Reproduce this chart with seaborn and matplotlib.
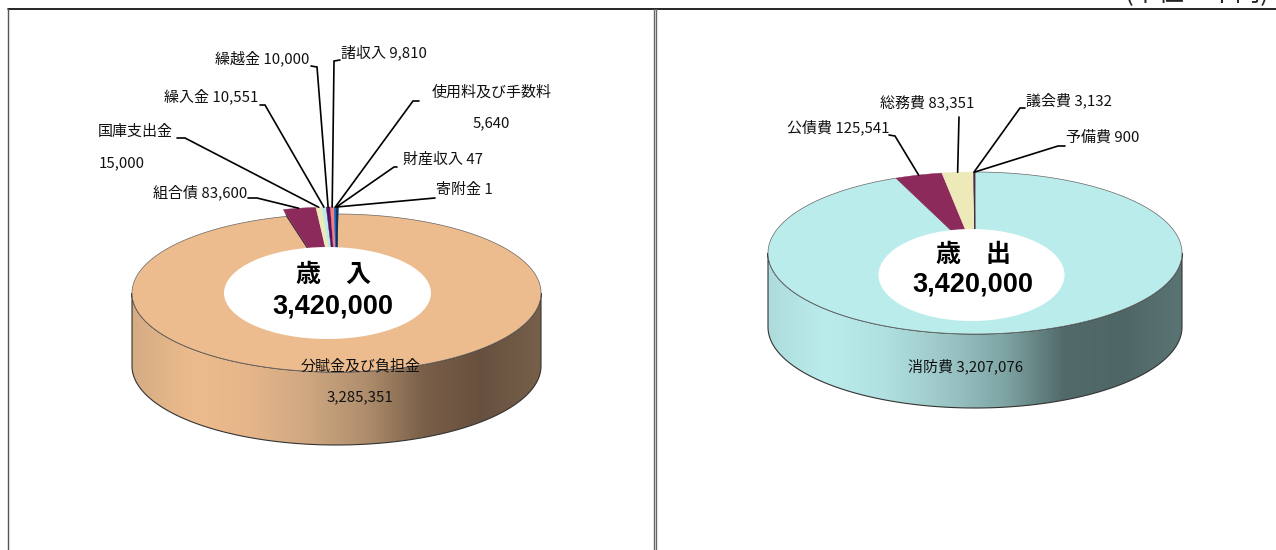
import numpy as np
import matplotlib
matplotlib.use("Agg")
import matplotlib.pyplot as plt
from matplotlib.patches import Polygon, Ellipse
import seaborn as sns

# data
revenue_names = ["分賦金及び負担金", "組合債", "国庫支出金", "繰入金", "繰越金", "諸収入", "使用料及び手数料", "財産収入", "寄附金"]
revenue_values = [3285351, 83600, 15000, 10551, 10000, 9810, 5640, 47, 1]
expense_names = ["消防費", "公債費", "総務費", "議会費", "予備費"]
expense_values = [3207076, 125541, 83351, 3132, 900]
total_value = 3420000
revenue_title = "歳　入"
expense_title = "歳　出"
unit_text = "(単位：千円)"

# colours
revenue_colors = ["#EDBC8E", "#8C2B5B", "#EEE9B8", "#BBECEC", "#5E1060", "#F07F7F", "#0F66C0", "#10305E", "#10305E"]
expense_colors = ["#BBECEC", "#8C2B5B", "#EEE9B8", "#5E1060", "#333333"]
revenue_side = ["#D4AC84", "#ECBB8D", "#E6B68A", "#CFA781", "#AF8E6D", "#7A5F49", "#67503E", "#77604A"]
expense_side = ["#AEDCDC", "#BBECEC", "#B0E0E0", "#9CC6C6", "#7FA5A5", "#526A6A", "#4F6666", "#5A7474"]

sns.set_theme(style="white")
plt.rcParams["font.family"] = ["Noto Sans CJK JP", "DejaVu Sans"]
label_size = 10.8


def rim(cx, cy, rx, ry, a):
    # a is clockwise from 12 o'clock
    return np.column_stack([cx + rx * np.sin(a), cy - ry * np.cos(a)])


def draw_pie(ax, values, colors, side, cx, cy, rx, ry, depth, explode=0):
    # side wall, gradient clipped to the front half
    a = np.linspace(np.pi / 2, 3 * np.pi / 2, 200)
    top = rim(cx, cy, rx, ry, a)
    low = rim(cx, cy + depth, rx, ry, a)[::-1]
    wall = Polygon(np.vstack([top, low]), closed=True, fc="none", ec="#333333", lw=0.8, zorder=2)
    ax.add_patch(wall)
    grad = np.array(sns.blend_palette(side, n_colors=256))[None, :, :]
    im = ax.imshow(grad, extent=(cx - rx, cx + rx, cy + depth + ry, cy), aspect="auto", zorder=1)
    im.set_clip_path(wall)

    # slices, the small ones pulled out along their own direction
    total = np.sum(values)
    stops = np.cumsum([0] + list(values)) / total * 2 * np.pi
    mids = []
    first = None
    overlap = np.radians(0.5) if explode else 0
    for i, v in enumerate(values):
        end = stops[i + 1] + overlap if 0 < i < len(values) - 1 else stops[i + 1]
        t = np.linspace(stops[i], end, max(3, int(v / total * 400)))
        m = (stops[i] + stops[i + 1]) / 2
        dx = explode * rx / ry * np.sin(m) if i > 0 else 0
        dy = -explode * np.cos(m) if i > 0 else 0
        edge = rim(cx + dx, cy + dy, rx, ry, t)
        pts = np.vstack([[cx + dx, cy + dy], edge])
        if i == 0:
            first = pts
            ax.add_patch(Polygon(pts, closed=True, fc=colors[i], ec="#666666", lw=0.5, zorder=3))
        else:
            if i == 1 and explode:
                # dark cut face in the gap next to the big slice
                face = [edge[0], pts[0], first[0], first[-1]]
                ax.add_patch(Polygon(face, closed=True, fc="#4A1530", ec="none", zorder=3))
            ax.add_patch(Polygon(pts, closed=True, fc=colors[i], ec=colors[i], lw=0.3, zorder=4))
        mids.append(rim(cx + dx, cy + dy, rx, ry, np.array([m]))[0])
    return mids


def leader(ax, pts):
    xs, ys = zip(*pts)
    ax.plot(xs, ys, color="black", lw=1.2, solid_joinstyle="miter", zorder=5)


fig = plt.figure(figsize=(12.76, 5.5), dpi=100)
ax = fig.add_axes([0, 0, 1, 1])

# left pie
mids = draw_pie(ax, revenue_values, revenue_colors, revenue_side, 336.5, 293, 204.5, 79, 73, explode=7)
ax.add_patch(Ellipse((327.5, 293), 207, 92, fc="white", ec="none", zorder=6))

# right pie
mids_r = draw_pie(ax, expense_values, expense_colors, expense_side, 975, 253, 207, 81, 74)
ax.add_patch(Ellipse((971.5, 275), 186, 92, fc="white", ec="none", zorder=6))

# leaders: label side end, elbow, then the slice
rev_elbows = {
    1: [(248, 198), (257, 198)],
    2: [(177, 138), (185, 138)],
    3: [(260, 105), (265, 105)],
    4: [(311, 66), (317, 67)],
    5: [(340, 60), (334, 61)],
    6: [(419, 101), (413, 101)],
    7: [(397, 167), (394, 167)],
    8: [(435, 198), (435, 198)],
}
for i, el in rev_elbows.items():
    leader(ax, el + [tuple(mids[i])])
exp_elbows = {
    1: [(889, 135), (895, 136)],
    2: [(959, 117), (959, 117)],
    3: [(1025, 108), (1020, 108)],
    4: [(1065, 146), (1058, 146)],
}
for i, el in exp_elbows.items():
    leader(ax, el + [tuple(mids_r[i])])


# labels
def label(x, y, s, ha="center"):
    ax.text(x, y, s, ha=ha, va="center", fontsize=label_size, color="#111111", zorder=7)


label(361, 366, revenue_names[0])
label(360, 397, f"{revenue_values[0]:,}")
label(200, 192, f"{revenue_names[1]} {revenue_values[1]:,}")
label(135, 132, revenue_names[2])
label(122, 163, f"{revenue_values[2]:,}")
label(211, 96, f"{revenue_names[3]} {revenue_values[3]:,}")
label(262, 58, f"{revenue_names[4]} {revenue_values[4]:,}")
label(384, 52, f"{revenue_names[5]} {revenue_values[5]:,}")
label(492, 93, revenue_names[6])
label(491, 123, f"{revenue_values[6]:,}")
label(443, 160, f"{revenue_names[7]} {revenue_values[7]:,}")
label(464, 190, f"{revenue_names[8]} {revenue_values[8]:,}")

label(965, 366, f"{expense_names[0]} {expense_values[0]:,}")
label(838, 127, f"{expense_names[1]} {expense_values[1]:,}")
label(927, 102, f"{expense_names[2]} {expense_values[2]:,}")
label(1069, 100, f"{expense_names[3]} {expense_values[3]:,}")
label(1103, 138, f"{expense_names[4]} {expense_values[4]:,}")

# centre titles
for x, y1, y2, title in [(333, 275, 306, revenue_title), (973, 255, 285, expense_title)]:
    ax.text(x, y1, title, ha="center", va="center", fontsize=18, fontweight="bold", color="black", zorder=7)
    ax.text(x, y2, f"{total_value:,}", ha="center", va="center", fontsize=19.5, fontweight="bold",
            family="Liberation Sans", color="black", zorder=7)

# unit, cut off by the top of the page as in the source
ax.text(1197, 1.5, unit_text, ha="center", va="baseline", fontsize=18.4, color="#222222")

# frames
ax.plot([7.5, 1276], [8.5, 8.5], color="black", lw=1.2)
ax.plot([7.5, 7.5], [8.5, 550], color="#555555", lw=1.0)
ax.plot([653.5, 653.5], [8.5, 550], color="#666666", lw=1.0)
ax.plot([655.5, 655.5], [8.5, 550], color="#666666", lw=1.0)

ax.set_xlim(0, 1276)
ax.set_ylim(550, 0)
ax.set_axis_off()

plt.savefig("out.png", dpi=100)
